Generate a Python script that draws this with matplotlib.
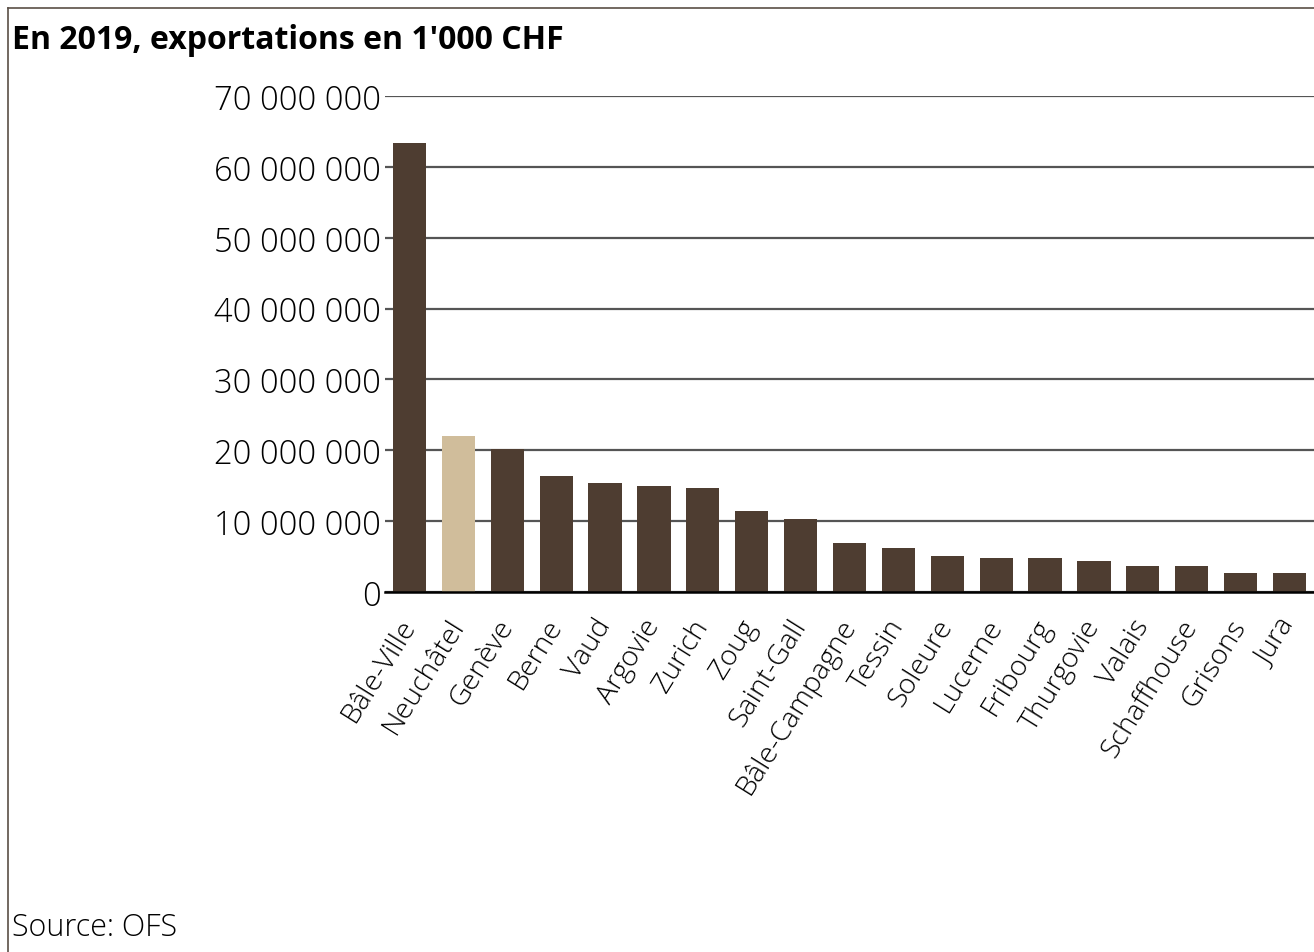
import matplotlib
matplotlib.use("Agg")
import matplotlib.pyplot as plt
from matplotlib.lines import Line2D
from matplotlib.ticker import FuncFormatter
import numpy as np

# exportations 2019, en 1'000 CHF
cantons = ["Bâle-Ville", "Neuchâtel", "Genève", "Berne", "Vaud", "Argovie", "Zurich",
           "Zoug", "Saint-Gall", "Bâle-Campagne", "Tessin", "Soleure", "Lucerne",
           "Fribourg", "Thurgovie", "Valais", "Schaffhouse", "Grisons", "Jura"]
exports = [63_400_000, 22_000_000, 20_200_000, 16_300_000, 15_300_000, 14_900_000,
           14_600_000, 11_400_000, 10_300_000, 6_850_000, 6_200_000, 5_100_000,
           4_800_000, 4_800_000, 4_400_000, 3_700_000, 3_700_000, 2_650_000, 2_600_000]
highlight = "Neuchâtel"

DARK = "#4e3d31"
LIGHT = "#d0bd9b"

plt.rcParams["font.family"] = ["Open Sans", "DejaVu Sans"]

fig = plt.figure(figsize=(13.14, 9.53), dpi=100)
ax = fig.add_axes([0.293, 0.378, 0.707, 0.52])

x = np.arange(len(cantons))
colors = [LIGHT if c == highlight else DARK for c in cantons]
ax.bar(x, exports, width=0.68, color=colors, zorder=3)

ax.set_xlim(-0.5, len(cantons) - 0.5)
ax.set_ylim(0, 70_000_000)
ax.set_yticks(np.arange(0, 70_000_001, 10_000_000))
ax.yaxis.set_major_formatter(FuncFormatter(lambda v, p: f"{int(v):,}".replace(",", " ")))
ax.grid(axis="y", color="#555555", linewidth=1.6, zorder=1)
ax.set_axisbelow(True)
for s in ["top", "right", "left"]:
    ax.spines[s].set_visible(False)
ax.spines["bottom"].set_color("black")
ax.spines["bottom"].set_linewidth(1.8)
ax.spines["bottom"].set_zorder(4)

ax.tick_params(axis="y", length=0, pad=3, labelsize=23.5)
ax.tick_params(axis="x", length=0, pad=21)
ax.set_xticks(x)
ax.set_xticklabels(cantons, rotation=58, ha="right", va="center",
                   rotation_mode="anchor", fontsize=20.5)
for lab in ax.get_yticklabels() + ax.get_xticklabels():
    lab.set_fontweight("light")

fig.text(0.009, 0.957, "En 2019, exportations en 1'000 CHF", fontsize=23,
         fontweight="bold", ha="left", va="center")
fig.text(0.009, 0.026, "Source: OFS", fontsize=22, fontweight="light",
         ha="left", va="center")

# cadre haut et gauche
fig.add_artist(Line2D([0.006, 1.0], [0.9905, 0.9905], color="#5a4f46", linewidth=1.2))
fig.add_artist(Line2D([0.006, 0.006], [0.0, 0.9905], color="#5a4f46", linewidth=1.2))

fig.savefig("out.png", dpi=100)
